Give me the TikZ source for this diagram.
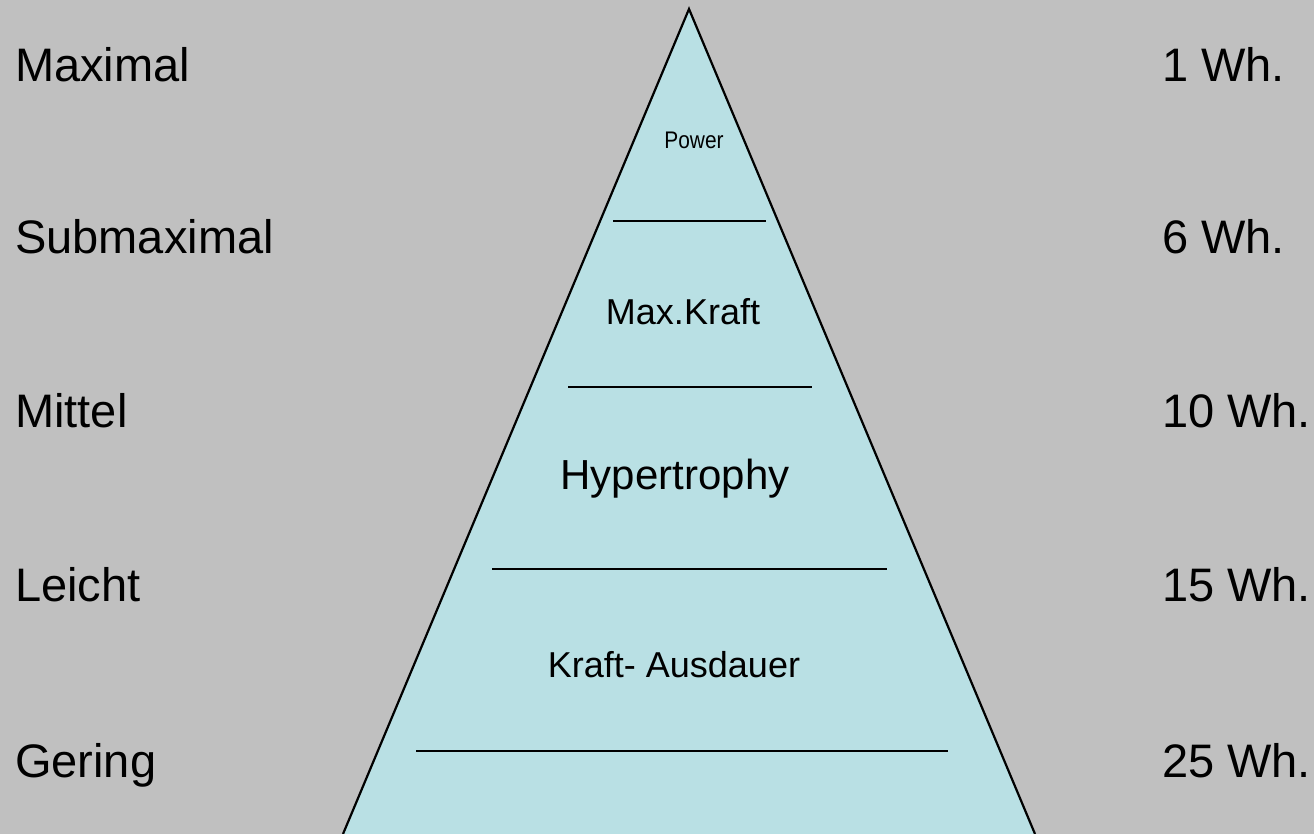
\documentclass[tikz,border=0pt]{standalone}
\usepackage{fontspec}
\setmainfont{Liberation Sans}
\usepackage{graphicx}
\usepackage{xcolor}
\usepackage{tikz}
\definecolor{bggray}{RGB}{192,192,192}
\definecolor{pyrfill}{RGB}{185,224,228}

\begin{document}
\begin{tikzpicture}[x=1pt, y=-1pt,
    lvl/.style={anchor=base west, inner sep=0pt, font=\fontsize{47}{56}\selectfont},
    wh/.style={anchor=base west, inner sep=0pt, font=\fontsize{47}{56}\selectfont},
    zone/.style={anchor=base, inner sep=0pt, font=\fontsize{36}{43}\selectfont},
    sep/.style={line width=2.8pt}
]
\fill[bggray] (0,0) rectangle (1314,834);
\useasboundingbox (0,0) rectangle (1314,834);
% pyramid
\coordinate (top) at (689,9);
\coordinate (bl) at (343,834);
\coordinate (br) at (1035,834);
\filldraw[fill=pyrfill, line width=2.2pt, line join=miter] (bl) -- (top) -- (br);
\draw[sep] (613,221) -- (766,221);
\draw[sep] (568,387) -- (812,387);
\draw[sep] (492,569) -- (887,569);
\draw[sep] (416,751) -- (948,751);
% zones
\node[zone, font=\fontsize{24}{29}\selectfont] (power) at (694,149) {\scalebox{0.87}[1]{Power}};
\node[zone] (maxkraft) at (683,324) {Max.Kraft};
\node[zone, font=\fontsize{42}{50}\selectfont] (hyper) at (675,489) {Hypertrophy};
\node[zone] (ausdauer) at (674,677) {Kraft- Ausdauer};
% intensity
\node[lvl] (maximal) at (15,82) {Maximal};
\node[lvl] (submax) at (15,254) {Submaximal};
\node[lvl] (mittel) at (15,427) {Mittel};
\node[lvl] (leicht) at (15,601) {Leicht};
\node[lvl] (gering) at (15,777) {Gering};
% repetitions
\node[wh] (wh1) at (1162,82) {1 Wh.};
\node[wh] (wh6) at (1162,254) {6 Wh.};
\node[wh] (wh10) at (1162,427) {10 Wh.};
\node[wh] (wh15) at (1162,601) {15 Wh.};
\node[wh] (wh25) at (1162,777) {25 Wh.};
\end{tikzpicture}
\end{document}
